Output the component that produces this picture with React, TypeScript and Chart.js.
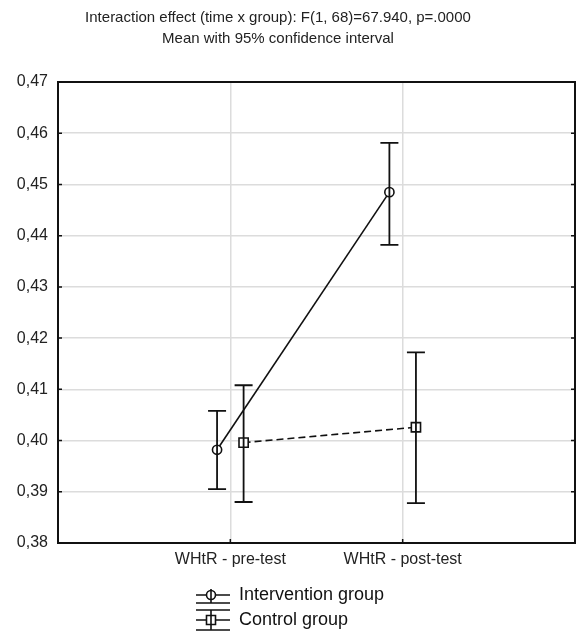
import React, { useEffect, useRef } from 'react';
import { Chart, registerables } from 'chart.js';
Chart.register(...registerables);

const FONT = '"Liberation Sans", Arial, Helvetica, sans-serif';

const titleLines = [
  'Interaction effect (time x group): F(1, 68)=67.940, p=.0000',
  'Mean with 95% confidence interval',
];
const categories = ['WHtR - pre-test', 'WHtR - post-test'];
const seriesNames = ['Intervention group', 'Control group'];

const interventionMean = [0.3982, 0.4485];
const interventionLow = [0.3905, 0.4382];
const interventionHigh = [0.4058, 0.4581];

const controlMean = [0.3996, 0.4026];
const controlLow = [0.388, 0.3878];
const controlHigh = [0.4108, 0.4172];

const yMin = 0.38;
const yMax = 0.47;
const yStep = 0.01;

const xDodge = 0.077;
const INK = '#111111';

export default function App() {
  const ref = useRef<HTMLCanvasElement>(null);

  useEffect(() => {
    document.body.style.margin = '0';
    document.body.style.overflow = 'hidden';
    const canvas = ref.current!;

    const errorBars = {
      id: 'errorBars',
      afterDatasetsDraw(chart: any) {
        const { ctx } = chart;
        const x = chart.scales.x;
        const y = chart.scales.y;
        ctx.save();
        ctx.strokeStyle = INK;
        ctx.lineWidth = 1.8;
        const sets = [
          { lo: interventionLow, hi: interventionHigh, off: -xDodge },
          { lo: controlLow, hi: controlHigh, off: xDodge },
        ];
        sets.forEach((s) =>
          s.lo.forEach((lo, i) => {
            const px = x.getPixelForValue(i + 1 + s.off);
            const pLo = y.getPixelForValue(lo);
            const pHi = y.getPixelForValue(s.hi[i]);
            ctx.beginPath();
            ctx.moveTo(px, pLo);
            ctx.lineTo(px, pHi);
            ctx.moveTo(px - 9, pLo);
            ctx.lineTo(px + 9, pLo);
            ctx.moveTo(px - 9, pHi);
            ctx.lineTo(px + 9, pHi);
            ctx.stroke();
          })
        );
        ctx.restore();
      },
    };

    const frame = {
      id: 'frame',
      afterDraw(chart: any) {
        const { ctx, chartArea: a } = chart;
        const x = chart.scales.x;
        const y = chart.scales.y;
        ctx.save();
        ctx.strokeStyle = INK;
        ctx.lineWidth = 2;
        ctx.strokeRect(a.left, a.top, a.right - a.left, a.bottom - a.top);
        ctx.lineWidth = 1.5;
        ctx.beginPath();
        y.ticks.forEach((t: any) => {
          const py = y.getPixelForValue(t.value);
          ctx.moveTo(a.left, py);
          ctx.lineTo(a.left + 4, py);
          ctx.moveTo(a.right - 4, py);
          ctx.lineTo(a.right, py);
        });
        x.ticks.forEach((t: any) => {
          const px = x.getPixelForValue(t.value);
          ctx.moveTo(px, a.bottom);
          ctx.lineTo(px, a.bottom - 4);
        });
        ctx.stroke();

        // title
        ctx.fillStyle = '#222';
        ctx.font = `15px ${FONT}`;
        ctx.textAlign = 'center';
        ctx.textBaseline = 'middle';
        ctx.fillText(titleLines[0], 278, 18);
        ctx.fillText(titleLines[1], 278, 39);

        // legend
        const rows = [
          { y: 595, style: 'circle' },
          { y: 620, style: 'rect' },
        ];
        const x0 = 196;
        const x1 = 230;
        const mx = 211;
        ctx.strokeStyle = INK;
        ctx.lineWidth = 1.6;
        rows.forEach((r, i) => {
          ctx.beginPath();
          ctx.moveTo(x0, r.y);
          ctx.lineTo(x1, r.y);
          if (i === 0) {
            ctx.moveTo(mx, r.y - 6);
            ctx.lineTo(mx, r.y + 8);
            ctx.moveTo(x0, r.y + 8);
            ctx.lineTo(x1, r.y + 8);
          } else {
            ctx.moveTo(x0, r.y - 10);
            ctx.lineTo(x1, r.y - 10);
            ctx.moveTo(mx, r.y - 10);
            ctx.lineTo(mx, r.y + 10);
            ctx.moveTo(x0, r.y + 10);
            ctx.lineTo(x1, r.y + 10);
          }
          ctx.stroke();
          ctx.fillStyle = '#fff';
          ctx.beginPath();
          if (r.style === 'circle') {
            ctx.arc(mx, r.y, 4.5, 0, Math.PI * 2);
          } else {
            ctx.rect(mx - 4.5, r.y - 4.5, 9, 9);
          }
          ctx.fill();
          ctx.stroke();
          ctx.beginPath();
          ctx.moveTo(mx, r.y - 4.5);
          ctx.lineTo(mx, r.y + 4.5);
          ctx.stroke();
          ctx.fillStyle = '#111';
          ctx.font = `18px ${FONT}`;
          ctx.textAlign = 'left';
          ctx.textBaseline = 'middle';
          ctx.fillText(seriesNames[i], 239, r.y);
        });
        ctx.restore();
      },
    };

    const chart = new Chart(canvas, {
      type: 'line',
      data: {
        datasets: [
          {
            label: seriesNames[0],
            data: interventionMean.map((v, i) => ({ x: i + 1 - xDodge, y: v })),
            borderColor: INK,
            borderWidth: 1.6,
            pointStyle: 'circle',
            pointRadius: 4.6,
            pointBorderWidth: 1.6,
            pointBackgroundColor: '#fff',
            pointBorderColor: INK,
            fill: false,
          },
          {
            label: seriesNames[1],
            data: controlMean.map((v, i) => ({ x: i + 1 + xDodge, y: v })),
            borderColor: INK,
            borderWidth: 1.6,
            borderDash: [7, 4],
            pointStyle: 'rect',
            pointRadius: 6.5,
            pointBorderWidth: 1.6,
            pointBackgroundColor: '#fff',
            pointBorderColor: INK,
            fill: false,
          },
        ],
      },
      options: {
        responsive: false,
        animation: false,
        events: [],
        layout: { autoPadding: false, padding: { top: 82, right: 1, left: 0, bottom: 0 } },
        plugins: {
          legend: { display: false },
          title: { display: false },
          tooltip: { enabled: false },
        },
        scales: {
          x: {
            type: 'linear',
            min: 0,
            max: 3,
            afterFit: (s: any) => {
              s.height = 88;
            },
            afterBuildTicks: (s: any) => {
              s.ticks = categories.map((_, i) => ({ value: i + 1 }));
            },
            ticks: {
              autoSkip: false,
              maxRotation: 0,
              padding: 7,
              color: '#222',
              font: { family: FONT, size: 16 },
              callback: (v: any) => categories[Math.round(Number(v)) - 1] ?? '',
            },
            grid: { color: '#dcdcdc', lineWidth: 1.5, drawTicks: false },
            border: { display: false },
          },
          y: {
            type: 'linear',
            min: yMin,
            max: yMax,
            afterFit: (s: any) => {
              s.width = 58;
            },
            ticks: {
              stepSize: yStep,
              padding: 10,
              color: '#222',
              font: { family: FONT, size: 16 },
              callback: (v: any) => Number(v).toFixed(2).replace('.', ','),
            },
            grid: { color: '#dcdcdc', lineWidth: 1.5, drawTicks: false },
            border: { display: false },
          },
        },
      },
      plugins: [errorBars, frame],
    } as any);

    return () => chart.destroy();
  }, []);

  return (
    <div style={{ width: 576, height: 631, background: '#fff', overflow: 'hidden' }}>
      <canvas ref={ref} width={576} height={631} style={{ display: 'block' }} />
    </div>
  );
}
